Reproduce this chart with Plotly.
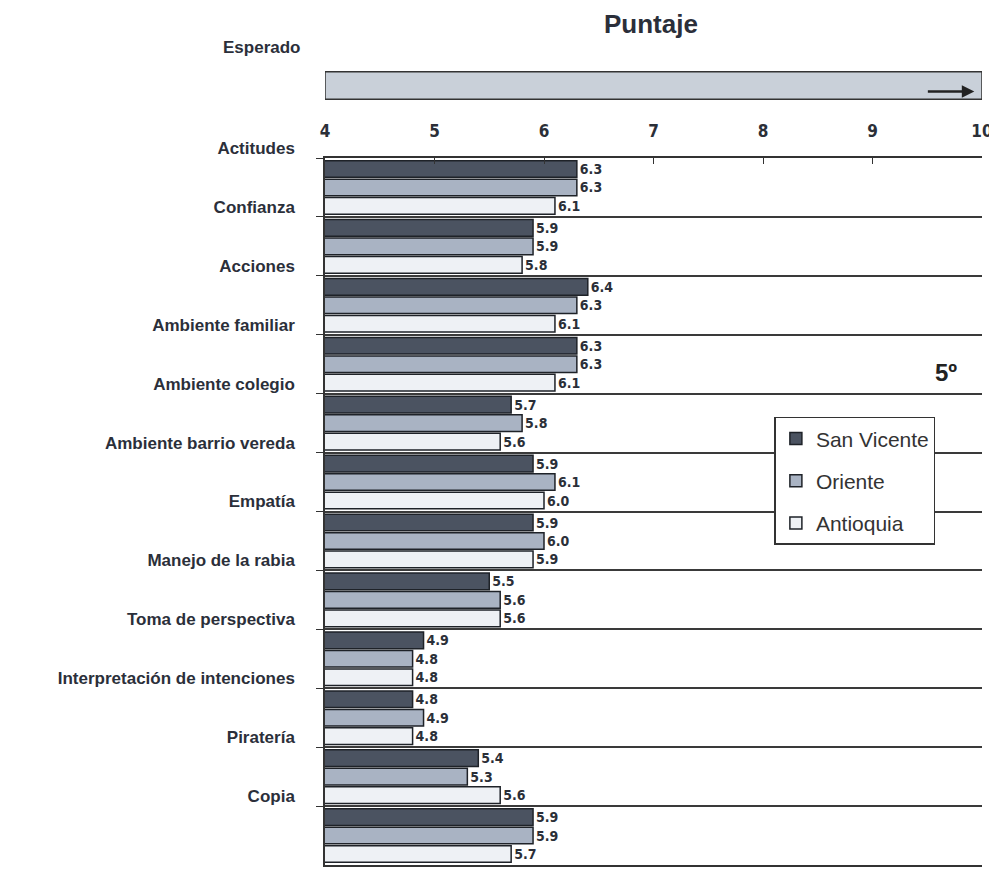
import plotly.graph_objects as go

categories = ["Actitudes", "Confianza", "Acciones", "Ambiente familiar", "Ambiente colegio",
              "Ambiente barrio vereda", "Empatía", "Manejo de la rabia", "Toma de perspectiva",
              "Interpretación de intenciones", "Piratería", "Copia"]
san_vicente = [6.3, 5.9, 6.4, 6.3, 5.7, 5.9, 5.9, 5.5, 4.9, 4.8, 5.4, 5.9]
oriente = [6.3, 5.9, 6.3, 6.3, 5.8, 6.1, 6.0, 5.6, 4.8, 4.9, 5.3, 5.9]
antioquia = [6.1, 5.8, 6.1, 6.1, 5.6, 6.0, 5.9, 5.6, 4.8, 4.8, 5.6, 5.7]
x_ticks = [4, 5, 6, 7, 8, 9, 10]

series = [("San Vicente", san_vicente, "#4b5361"),
          ("Oriente", oriente, "#a9b3c3"),
          ("Antioquia", antioquia, "#eef1f5")]

NARROW = "'Liberation Sans Narrow', 'DejaVu Sans Condensed', 'Roboto Condensed', 'Liberation Sans', sans-serif"
SANS = "'Liberation Sans', Arial, sans-serif"

idx = list(range(len(categories)))
fig = go.Figure()
for i, (name, vals, col) in enumerate(series):
    fig.add_trace(go.Bar(
        y=idx, x=vals, name=name, orientation="h",
        marker=dict(color=col, line=dict(color="#1e2228", width=1.5)),
        text=[f"{v:.1f}" for v in vals], textposition="outside",
        textfont=dict(family=NARROW, size=14, color="#2b2f38", weight="bold"),
        cliponaxis=False, legendgroup=name,
    ))

fig.update_layout(
    width=997, height=877,
    margin=dict(l=317, r=15, t=150, b=20),
    paper_bgcolor="white", plot_bgcolor="white",
    barmode="group", bargap=0.06, bargroupgap=0.1,
    showlegend=True,
    legend=dict(x=0.684, y=0.634, xanchor="left", yanchor="top",
                bordercolor="#333", borderwidth=1.5, bgcolor="white",
                font=dict(family=SANS, size=21, color="#333"),
                tracegroupgap=12, itemwidth=30,
                entrywidth=215, entrywidthmode="pixels"),
    xaxis=dict(range=[4, 10], side="top", tickvals=x_ticks, showgrid=False,
               showline=True, mirror=True, linecolor="#333", linewidth=1.5,
               ticks="inside", ticklen=6, tickcolor="#333",
               ticklabelstandoff=12,
               tickfont=dict(family=NARROW, size=17, color="#2b2f38", weight="bold"),
               zeroline=False),
    yaxis=dict(range=[11.5, -0.5], tickvals=[i - 0.5 for i in idx], ticktext=categories,
               ticks="outside", ticklen=7, tickcolor="#333",
               showgrid=True, gridcolor="#3a3a3a", gridwidth=1.5, zeroline=False,
               showline=True, linecolor="#333", linewidth=1.5,
               ticklabelstandoff=18, ticklabelshift=10,
               tickfont=dict(family=SANS, size=17, color="#2b2f3a", weight="bold")),
)

# Esperado bar
fig.add_shape(type="rect", xref="x", yref="paper", x0=4, x1=10, y0=1.083, y1=1.122,
              fillcolor="#c9d0d9", line=dict(color="#333", width=1.5))
fig.add_annotation(xref="x", yref="paper", x=9.93, y=1.094, ax=-48, ay=0,
                   text="", showarrow=True,
                   arrowhead=2, arrowsize=1, arrowwidth=2.5, arrowcolor="#222")
fig.add_annotation(xref="paper", yref="paper", x=-0.035, y=1.156, text="Esperado",
                   showarrow=False, xanchor="right", yanchor="middle",
                   font=dict(family=SANS, size=17, color="#2b2f3a", weight="bold"))
fig.add_annotation(xref="paper", yref="paper", x=0.496, y=1.19, text="Puntaje",
                   showarrow=False, xanchor="center", yanchor="middle",
                   font=dict(family=SANS, size=26, color="#2b2f3a", weight="bold"))
fig.add_annotation(xref="paper", yref="paper", x=0.945, y=0.697, text="5º",
                   showarrow=False, xanchor="center", yanchor="middle",
                   font=dict(family=SANS, size=24, color="#222", weight="bold"))

fig.write_html("out.html")
